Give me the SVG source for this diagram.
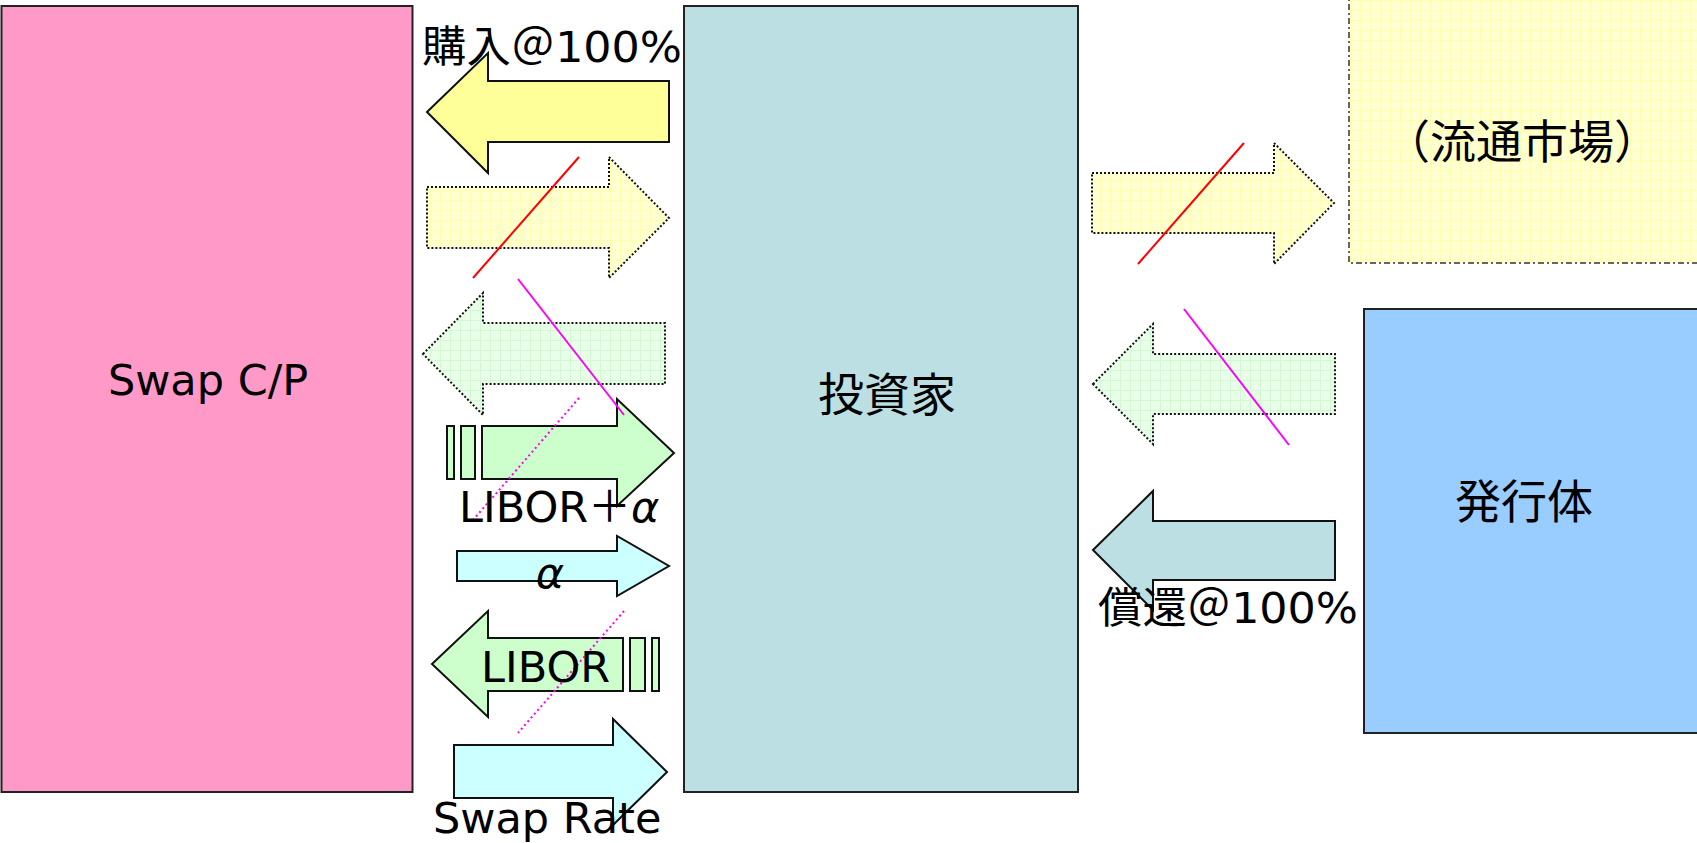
<svg xmlns="http://www.w3.org/2000/svg" width="1697" height="843" viewBox="0 0 1697 843">
<defs>
<pattern id="gridY" width="10" height="10" patternUnits="userSpaceOnUse">
<rect width="10" height="10" fill="#FFFFD4"/>
<path d="M0 0.5H10M0.5 0V10" stroke="#FFFFAE" stroke-width="1" fill="none"/>
</pattern>
<pattern id="gridG" width="10" height="10" patternUnits="userSpaceOnUse">
<rect width="10" height="10" fill="#E8FFE8"/>
<path d="M0 0.5H10M0.5 0V10" stroke="#D4F8D4" stroke-width="1" fill="none"/>
</pattern>
<style>
.box{stroke:#222;stroke-width:2}
.solid{stroke:#111;stroke-width:2;stroke-linejoin:miter}
.dot{stroke:#111;stroke-width:2;stroke-dasharray:2 2}
.lbl{font-family:"DejaVu Sans","Noto Sans CJK JP",sans-serif;font-size:43px;fill:#000}
.cjk{font-family:"Noto Sans CJK JP",sans-serif;font-size:46px;fill:#000}
</style>
</defs>
<rect width="1697" height="843" fill="#fff"/>

<g id="swapcp">
<rect class="box" x="1.5" y="6" width="411" height="786" fill="#FF99C8"/>
<text class="lbl" x="208" y="395" text-anchor="middle">Swap C/P</text>
</g>
<g id="investor">
<rect class="box" x="684" y="6" width="394" height="786" fill="#BBDFE2"/>
<text class="cjk" x="887" y="411" text-anchor="middle">投資家</text>
</g>
<g id="market">
<rect x="1349" y="-10" width="360" height="273" fill="url(#gridY)" stroke="#333" stroke-width="1.5" stroke-dasharray="6 3 2 3"/>
<text class="cjk" x="1522" y="158" text-anchor="middle">（流通市場）</text>
</g>
<g id="issuer">
<rect class="box" x="1364" y="309" width="345" height="424" fill="#99CCFF"/>
<text class="cjk" x="1524" y="518" text-anchor="middle">発行体</text>
</g>

<g id="connectors">
<polygon class="solid" fill="#FFFF99" points="427,112 488,53 488,81 669,81 669,142 488,142 488,173"/>
<polygon class="dot" fill="url(#gridY)" points="427,187 609,187 609,157 669,218 609,278 609,248 427,248"/>
<line x1="579" y1="157" x2="473" y2="278" stroke="#FF0000" stroke-width="2"/>
<polygon class="dot" fill="url(#gridG)" points="423,354 483,293 483,323 665,323 665,384 483,384 483,415"/>
<rect class="solid" x="447" y="426" width="7" height="53" fill="#CCFFCC"/>
<rect class="solid" x="461" y="426" width="14" height="53" fill="#CCFFCC"/>
<polygon class="solid" fill="#CCFFCC" points="482,426 617,426 617,399 674,453 617,506 617,479 482,479"/>
<line x1="518" y1="279" x2="624" y2="415" stroke="#FF00FF" stroke-width="2"/>
<line x1="579" y1="398" x2="473" y2="520" stroke="#FF00FF" stroke-width="2" stroke-dasharray="2 3"/>
<polygon class="solid" fill="#CCFFFF" points="457,551 617,551 617,536 669,566 617,596 617,581 457,581"/>
<polygon class="solid" fill="#CCFFCC" points="432,664 488,611 488,638 623,638 623,691 488,691 488,717"/>
<rect class="solid" x="630" y="638" width="15" height="53" fill="#CCFFCC"/>
<rect class="solid" x="652" y="638" width="7" height="53" fill="#CCFFCC"/>
<polygon class="solid" fill="#CCFFFF" points="454,745 613,745 613,719 667,772 613,825 613,798 454,798"/>
<line x1="624" y1="611" x2="518" y2="733" stroke="#FF00FF" stroke-width="2" stroke-dasharray="2 3"/>

<polygon class="dot" fill="url(#gridY)" points="1092,173 1274,173 1274,143 1334,203 1274,264 1274,233 1092,233"/>
<line x1="1244" y1="143" x2="1138" y2="264" stroke="#FF0000" stroke-width="2"/>
<polygon class="dot" fill="url(#gridG)" points="1093,384 1153,324 1153,354 1335,354 1335,414 1153,414 1153,444"/>
<line x1="1184" y1="309" x2="1289" y2="445" stroke="#FF00FF" stroke-width="2"/>
<polygon class="solid" fill="#BBDFE2" points="1093,550 1153,491 1153,521 1335,521 1335,580 1153,580 1153,610"/>

<text class="lbl" x="422" y="62" textLength="260" lengthAdjust="spacingAndGlyphs">購入＠100%</text>
<text class="lbl" x="459" y="522">LIBOR＋<tspan font-style="italic">α</tspan></text>
<text class="lbl" x="550" y="588" text-anchor="middle" font-style="italic" font-size="54">α</text>
<text class="lbl" x="481" y="682">LIBOR</text>
<text class="lbl" x="433" y="833">Swap Rate</text>
<text class="lbl" x="1098" y="623" textLength="260" lengthAdjust="spacingAndGlyphs">償還＠100%</text>
</g>
</svg>
